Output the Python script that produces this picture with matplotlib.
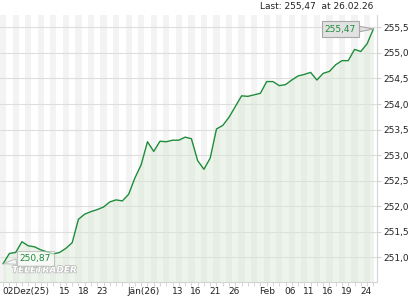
import matplotlib.pyplot as plt
import matplotlib.patheffects as pe
import numpy as np

# trading days shown on the chart (Dec 2025 - Feb 2026)
dates = [
    "02.12", "03.12", "04.12", "05.12", "08.12", "09.12", "10.12", "11.12", "12.12",
    "15.12", "16.12", "17.12", "18.12", "19.12", "22.12", "23.12", "24.12", "29.12",
    "30.12", "31.12", "02.01", "05.01", "06.01", "07.01", "08.01", "09.01", "12.01",
    "13.01", "14.01", "15.01", "16.01", "19.01", "20.01", "21.01", "22.01", "23.01",
    "26.01", "27.01", "28.01", "29.01", "30.01", "02.02", "03.02", "04.02", "05.02",
    "06.02", "09.02", "10.02", "11.02", "12.02", "13.02", "16.02", "17.02", "18.02",
    "19.02", "20.02", "23.02", "24.02", "25.02", "26.02",
]
prices = [
    250.87, 251.07, 251.09, 251.30, 251.22, 251.20, 251.14, 251.10, 251.06, 251.09,
    251.17, 251.28, 251.74, 251.84, 251.89, 251.93, 251.98, 252.08, 252.12, 252.10,
    252.23, 252.55, 252.81, 253.26, 253.07, 253.27, 253.26, 253.29, 253.29, 253.35,
    253.32, 252.89, 252.72, 252.94, 253.51, 253.58, 253.74, 253.95, 254.16, 254.15,
    254.18, 254.21, 254.44, 254.44, 254.36, 254.38, 254.47, 254.55, 254.58, 254.62,
    254.47, 254.60, 254.64, 254.77, 254.85, 254.85, 255.07, 255.03, 255.18, 255.47,
]
x_label_dates = ["02.12", "15.12", "18.12", "23.12", "02.01", "13.01", "16.01",
                 "21.01", "26.01", "02.02", "06.02", "11.02", "16.02", "19.02", "24.02"]
x_label_texts = ["02Dez(25)", "15", "18", "23", "Jän(26)", "13", "16",
                 "21", "26", "Feb", "06", "11", "16", "19", "24"]
y_ticks = [251.0, 251.5, 252.0, 252.5, 253.0, 253.5, 254.0, 254.5, 255.0, 255.5]

GREEN = "#1e8c3a"
STRIPE = "#f3f3f3"
GRID = "#dedede"
INK = "#222222"

plt.rcParams["font.family"] = "DejaVu Sans"

idx = np.arange(len(prices))
vals = np.array(prices)
y_lo, y_hi = 250.51, 255.745

fig = plt.figure(figsize=(4.2, 3.0), dpi=100, facecolor="white")
ax = fig.add_axes([0.0, 0.06, 376.5 / 420, 0.89])
ax.set_facecolor("white")
ax.set_xlim(-0.5, len(prices) - 0.5)
ax.set_ylim(y_lo, y_hi)

# alternating day stripes
for i in idx[::2]:
    ax.axvspan(i - 0.5, i + 0.5, color=STRIPE, lw=0, zorder=0)
for t in y_ticks:
    ax.axhline(t, color=GRID, lw=0.8, zorder=1)

ax.fill_between(idx, vals, y_lo, color="#d8e8d3", alpha=0.45, lw=0, zorder=2)
ax.plot(idx, vals, color=GREEN, lw=1.0, zorder=3)

# axes / ticks
for side in ["top", "left"]:
    ax.spines[side].set_visible(False)
for side in ["bottom", "right"]:
    ax.spines[side].set_color("#d4d4d4")
    ax.spines[side].set_linewidth(0.8)
ax.yaxis.tick_right()
ax.set_yticks(y_ticks)
ax.set_yticklabels([f"{t:.1f}".replace(".", ",") for t in y_ticks],
                   fontsize=6.5, color=INK)
ax.tick_params(axis="y", length=3, width=0.8, color="#d4d4d4", pad=2)
ax.set_xticks(idx)
ax.set_xticklabels([])
ax.tick_params(axis="x", length=3, width=0.6, color="#cfcfcf")
for d, t in zip(x_label_dates, x_label_texts):
    ax.annotate(t, (dates.index(d) - 0.15, 0), xycoords=("data", "axes fraction"),
                xytext=(0, -5), textcoords="offset pixels", ha="left", va="top",
                fontsize=6.5, color=INK, annotation_clip=False)

fig.text(373 / 420, 1 - 7 / 300, f"Last: {prices[-1]:.2f}".replace(".", ",")
         + "  at 26.02.26", ha="right", va="center", fontsize=6.5, color=INK)

# watermark
ax.text(12 / 376.5, 0.028, "TELETRADER", transform=ax.transAxes, fontsize=6.5,
        fontweight="bold", style="italic", color="white", va="bottom", zorder=4,
        path_effects=[pe.withStroke(linewidth=1.0, foreground="#b5b5b5")])

# last / low callouts
ax.annotate(f"{prices[-1]:.2f}".replace(".", ","), (idx[-1], prices[-1]),
            xytext=(-33, 0), textcoords="offset pixels", ha="center", va="center",
            fontsize=6.5, color=GREEN, zorder=5,
            bbox=dict(boxstyle="square,pad=0.35", fc="#e2e2e2", ec="#a8a8a8", lw=0.8),
            arrowprops=dict(arrowstyle="wedge,tail_width=0.6", fc="#e2e2e2",
                            ec="#a8a8a8", lw=0.8, shrinkA=0, shrinkB=0))
low = int(np.argmin(vals))
ax.annotate(f"{prices[low]:.2f}".replace(".", ","), (idx[low], prices[low]),
            xytext=(32, 5), textcoords="offset pixels", ha="center", va="center",
            fontsize=6.5, color=GREEN, zorder=5,
            bbox=dict(boxstyle="square,pad=0.3", fc="white", ec="#a8a8a8", lw=0.8,
                      alpha=0.6),
            arrowprops=dict(arrowstyle="wedge,tail_width=0.6", fc="white",
                            ec="#a8a8a8", lw=0.8, alpha=0.6, shrinkA=0, shrinkB=0))

fig.savefig("out.png", dpi=100, facecolor="white")
